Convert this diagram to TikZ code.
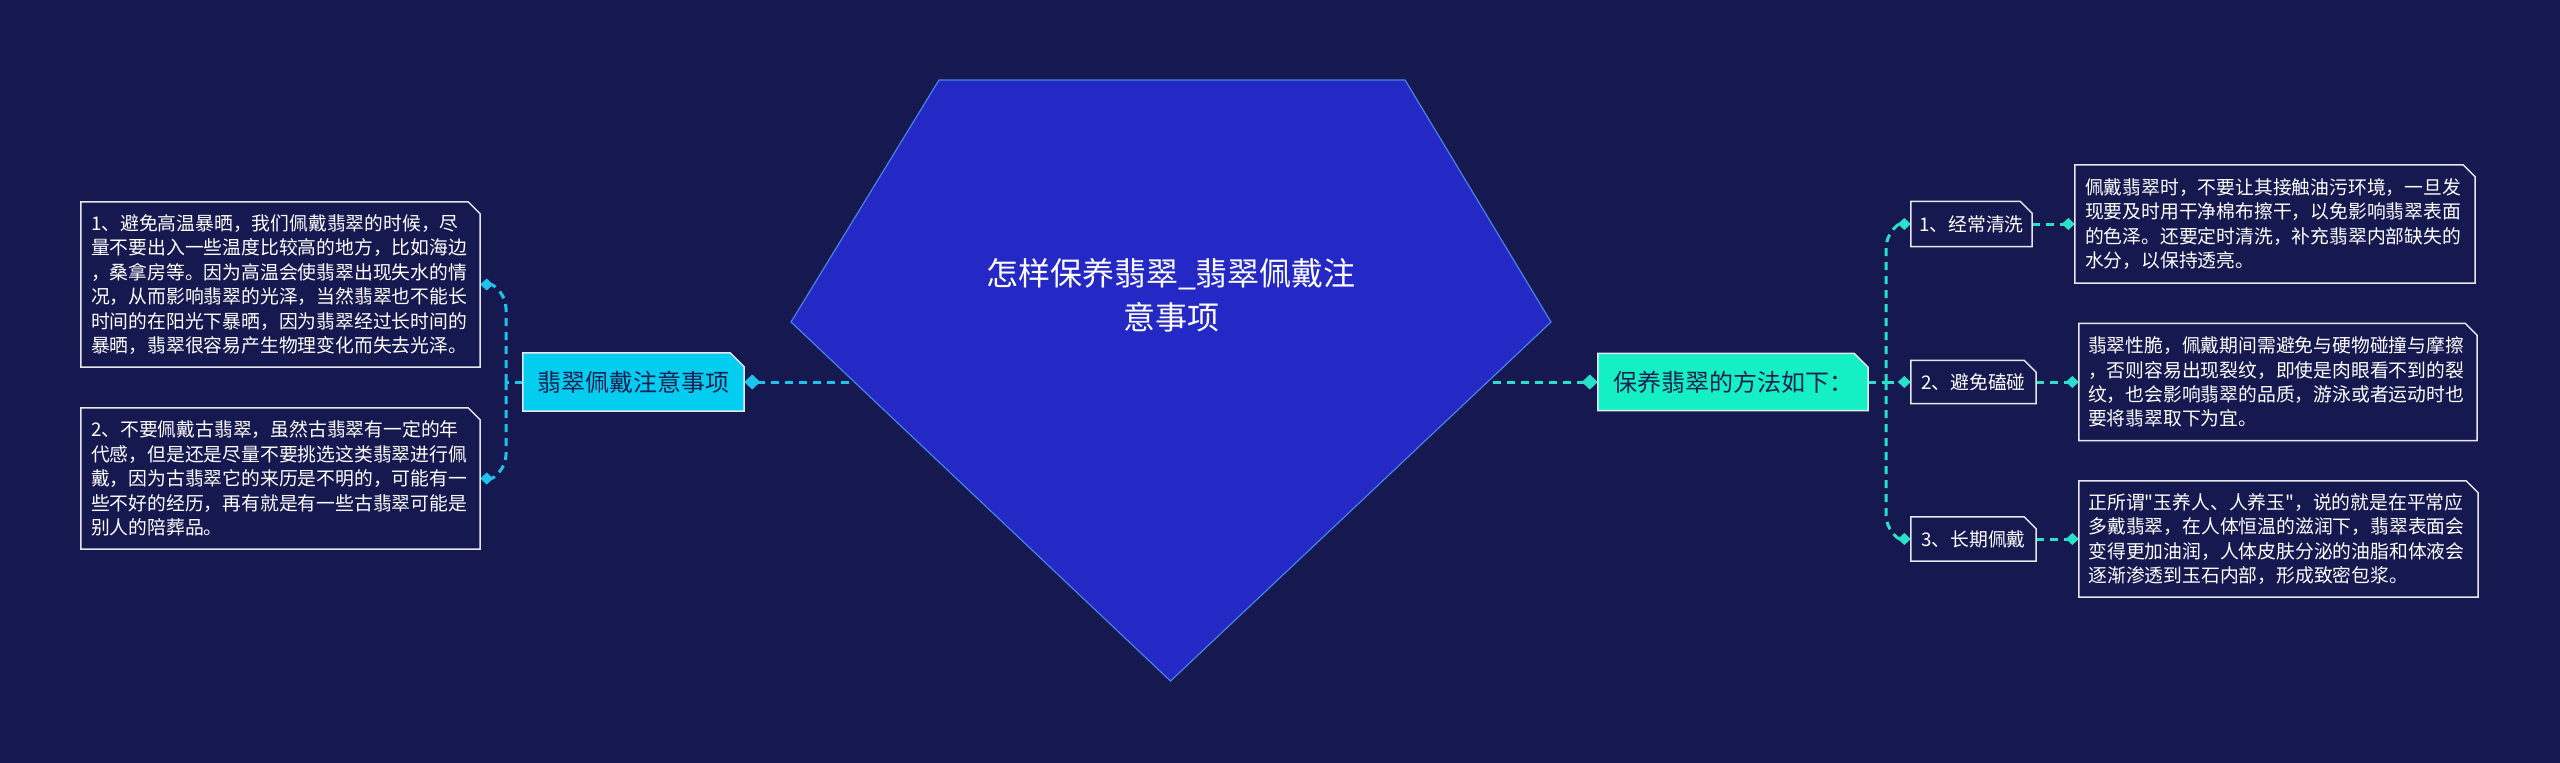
\documentclass[tikz,border=0pt]{standalone}
\usepackage{fontspec}
\newfontfamily\cjkfont{Noto Sans CJK SC}
\usetikzlibrary{arrows.meta,backgrounds,calc}
\definecolor{bgc}{RGB}{22,25,80}
\definecolor{pentfill}{RGB}{36,40,196}
\definecolor{pentline}{RGB}{70,130,230}
\definecolor{lcol}{RGB}{30,195,235}
\definecolor{rcol}{RGB}{40,225,200}
\definecolor{lmainfill}{RGB}{0,205,240}
\definecolor{rmainfill}{RGB}{20,240,195}
\definecolor{framec}{RGB}{230,230,238}
\definecolor{darktext}{RGB}{28,32,80}
\newcommand\cutframe[3]{\path[#3] (#1.north west) -- ([xshift=-#2]#1.north east) -- ([yshift=-#2]#1.north east) -- (#1.south east) -- (#1.south west) -- cycle;}
\begin{document}
\begin{tikzpicture}[x=1pt,y=-1pt,
  every node/.style={font=\cjkfont, inner sep=0pt},
  bodybox/.style={text=white, font=\cjkfont\fontsize{18.8}{24.4}\selectfont, align=left, text width=#1},
  smallbox/.style={text=white, font=\cjkfont\fontsize{18.8}{24.4}\selectfont, align=center},
  mainbox/.style={text=darktext, font=\cjkfont\fontsize{24}{30}\selectfont, align=center},
  titletext/.style={text=white, font=\cjkfont\fontsize{32}{44}\selectfont, align=center},
  lconn/.style={draw=lcol, line width=3pt, dash pattern=on 8pt off 6pt},
  rconn/.style={draw=rcol, line width=3pt, dash pattern=on 8pt off 6pt},
  bigtip/.style={-{Diamond[length=16pt,width=15pt]}},
  smalltip/.style={-{Diamond[length=13pt,width=12pt]}},
  framestyle/.style={draw=framec, line width=1.5pt, fill=#1},
  pentstyle/.style={draw=pentline, line width=1.2pt, fill=pentfill}
]
\useasboundingbox (0,0) rectangle (2560,763);

% centre title
\node[titletext] (root) at (1171,295) {怎样保养翡翠\_翡翠佩戴注\\意事项};

% main branches
\node[mainbox, minimum width=221pt, minimum height=58pt] (lmain) at (633.5,382) {翡翠佩戴注意事项};
\node[mainbox, minimum width=270pt, minimum height=57pt] (rmain) at (1733,382) {保养翡翠的方法如下：};

% left detail boxes
\node[bodybox=379pt, minimum width=399pt, minimum height=165pt] (b1) at (280.5,284.5) {1、避免高温暴晒，我们佩戴翡翠的时候，尽\\量不要出入一些温度比较高的地方，比如海边\\，桑拿房等。因为高温会使翡翠出现失水的情\\况，从而影响翡翠的光泽，当然翡翠也不能长\\时间的在阳光下暴晒，因为翡翠经过长时间的\\暴晒，翡翠很容易产生物理变化而失去光泽。};
\node[bodybox=379pt, minimum width=399pt, minimum height=141pt] (b2) at (280.5,478.5) {2、不要佩戴古翡翠，虽然古翡翠有一定的年\\代感，但是还是尽量不要挑选这类翡翠进行佩\\戴，因为古翡翠它的来历是不明的，可能有一\\些不好的经历，再有就是有一些古翡翠可能是\\别人的陪葬品。};

% right small boxes
\node[smallbox, minimum width=121pt, minimum height=45pt] (s1) at (1971.5,224) {1、经常清洗};
\node[smallbox, minimum width=125pt, minimum height=43pt] (s2) at (1973.5,382) {2、避免磕碰};
\node[smallbox, minimum width=125pt, minimum height=44pt] (s3) at (1973.5,539) {3、长期佩戴};

% right detail boxes
\node[bodybox=380pt, minimum width=400pt, minimum height=118pt] (d1) at (2275,224) {佩戴翡翠时，不要让其接触油污环境，一旦发\\现要及时用干净棉布擦干，以免影响翡翠表面\\的色泽。还要定时清洗，补充翡翠内部缺失的\\水分，以保持透亮。};
\node[bodybox=380pt, minimum width=398pt, minimum height=117pt] (d2) at (2278,382) {翡翠性脆，佩戴期间需避免与硬物碰撞与摩擦\\，否则容易出现裂纹，即使是肉眼看不到的裂\\纹，也会影响翡翠的品质，游泳或者运动时也\\要将翡翠取下为宜。};
\node[bodybox=380pt, minimum width=399pt, minimum height=116pt] (d3) at (2278.5,539) {正所谓"玉养人、人养玉"，说的就是在平常应\\多戴翡翠，在人体恒温的滋润下，翡翠表面会\\变得更加油润，人体皮肤分泌的油脂和体液会\\逐渐渗透到玉石内部，形成致密包浆。};

\coordinate (ljoin) at (506,382);
\coordinate (rjoin) at (1886,382);

\begin{scope}[on background layer]
  \fill[bgc] (0,0) rectangle (2560,763);
  % connectors
  \draw[lconn, bigtip] (root.center |- lmain.east) -- (lmain.east);
  \draw[rconn, bigtip] (root.center |- rmain.west) -- (rmain.west);
  \draw[lconn] (lmain.west) -- (ljoin);
  \draw[lconn, smalltip] (ljoin) -- ([yshift=-24pt]ljoin |- b1.east) to[out=90,in=0] (b1.east);
  \draw[lconn, smalltip] (ljoin) -- ([yshift=24pt]ljoin |- b2.east) to[out=-90,in=0] (b2.east);
  \draw[rconn] (rmain.east) -- (rjoin);
  \draw[rconn, smalltip] (rjoin) -- ([yshift=-24pt]rjoin |- s1.west) to[out=90,in=180] (s1.west);
  \draw[rconn, smalltip] (rjoin) -- (s2.west);
  \draw[rconn, smalltip] (rjoin) -- ([yshift=24pt]rjoin |- s3.west) to[out=-90,in=180] (s3.west);
  \draw[rconn, smalltip] (s1.east) -- (d1.west);
  \draw[rconn, smalltip] (s2.east) -- (d2.west);
  \draw[rconn, smalltip] (s3.east) -- (d3.west);
  % central pentagon
  \path[pentstyle] (939,80) -- (1405,80) -- (1551,322) -- (1170.5,681) -- (791,322) -- cycle;
  % frames
  \cutframe{lmain}{14pt}{framestyle=lmainfill}
  \cutframe{rmain}{14pt}{framestyle=rmainfill}
  \cutframe{b1}{12pt}{framestyle=bgc}
  \cutframe{b2}{12pt}{framestyle=bgc}
  \cutframe{s1}{12pt}{framestyle=bgc}
  \cutframe{s2}{12pt}{framestyle=bgc}
  \cutframe{s3}{12pt}{framestyle=bgc}
  \cutframe{d1}{12pt}{framestyle=bgc}
  \cutframe{d2}{12pt}{framestyle=bgc}
  \cutframe{d3}{12pt}{framestyle=bgc}
\end{scope}
\end{tikzpicture}
\end{document}
